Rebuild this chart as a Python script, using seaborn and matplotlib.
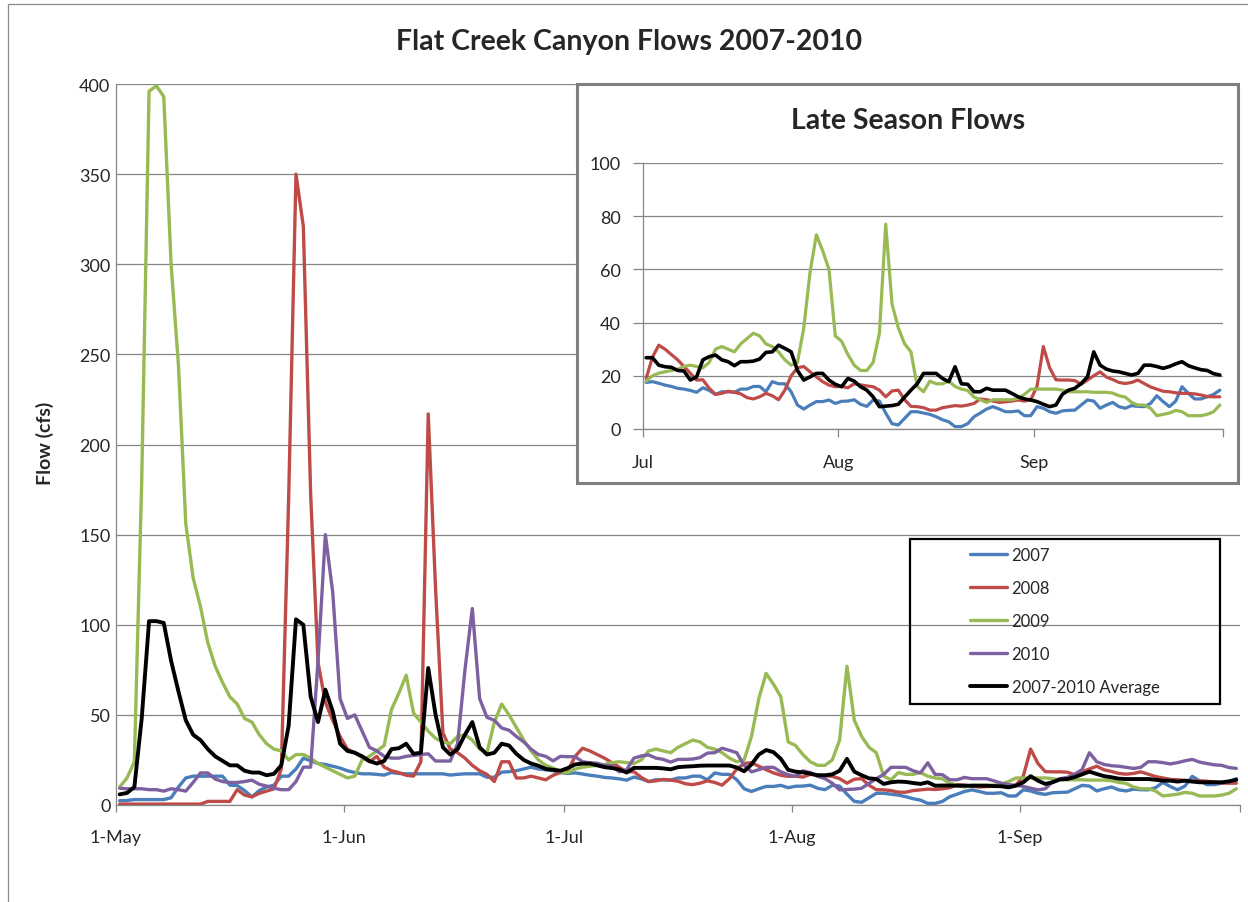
import numpy as np
import pandas as pd
import matplotlib
matplotlib.use("Agg")
import matplotlib.pyplot as plt
import seaborn as sns
from matplotlib.patches import Rectangle
from matplotlib.lines import Line2D

# ---------------- data (daily flow, cfs; 1 May - 30 Sep) ----------------
series_names = ["2007", "2008", "2009", "2010", "2007-2010 Average"]

flow_2007 = [
    2.4, 2.5, 3, 3, 3, 3, 3, 4, 10, 15,
    16, 16, 16, 16, 16, 11, 10.8, 8, 4.5, 8,
    10, 11, 16, 16, 20, 26, 24.5, 23, 22.5, 21.5,
    20.5, 19, 18, 17.3, 17.3, 17, 16.6, 18, 17.5, 17.3,
    17.3, 17.3, 17.3, 17.3, 17.3, 16.6, 17, 17.3, 17.3, 17.3,
    15.4, 15.4, 18.2, 18.5, 19, 20, 21, 20, 19.5, 19, 18,
    17.5, 17.8, 17.2, 16.5, 16, 15.3, 15, 14.5, 13.8, 15.5,
    14.5, 13, 14, 14, 13.8, 15, 15, 16, 16, 14,
    17.8, 17, 17, 14, 9, 7.5, 9, 10.3, 10.3, 10.9,
    9.6, 10.4, 10.5, 11, 9.3, 8.5, 10.9, 10.5, 6, 2,
    1.5, 4, 6.5, 6.5, 6, 5.5, 4.6, 3.5, 2.7, 0.9,
    0.9, 2, 4.6, 6, 7.5, 8.4, 7.5, 6.5, 6.5, 6.8,
    5, 5, 8.4, 7.8, 6.5, 5.9, 6.8, 7, 7.1, 9,
    10.9, 10.5, 7.8, 9, 10, 8.4, 7.8, 8.8, 8.5, 8.4,
    9.6, 12.5, 10.3, 8.4, 10.5, 15.9, 13.4, 11.3, 11.3, 12.1,
    13, 14.6,
]

flow_2008 = [
    0.5, 0.5, 0.5, 0.5, 0.5, 0.5, 0.5, 0.5, 0.5, 0.5,
    0.5, 0.5, 2, 2, 2, 2, 8.5, 5.5, 4.5, 6.5,
    7.7, 9, 20, 170, 350, 321, 172, 79, 57, 47,
    38, 31, 29, 26.5, 24, 27, 21, 19, 18, 16.5,
    16, 24, 217, 120, 40, 31, 29, 26, 22, 19,
    17, 13, 24, 24, 15, 15, 16, 15, 14, 16.5, 18,
    19, 27, 31.5, 30, 28, 26, 23.5, 21, 18.4, 18.5,
    15.3, 13, 13.4, 14.2, 13.8, 13.2, 11.8, 11.3, 12.1, 13.4,
    12.5, 11, 14.6, 20, 23, 23.5, 21.5, 19.6, 17.8, 16.5,
    15.9, 16, 15.5, 17, 16.6, 16.2, 15.9, 14.6, 12.1, 14.3,
    14.6, 11, 8.5, 8.4, 8, 7.1, 7.1, 8, 8.4, 8.8,
    8.6, 9, 9.6, 11.3, 11, 10.5, 10, 10.2, 10.5, 10.9,
    10.5, 11, 16, 31, 23, 18.5, 18.4, 18.4, 18.2, 16.8,
    18.4, 20, 21.5, 19.5, 18.6, 17.5, 17.1, 17.5, 18.4, 17.1,
    15.8, 15, 14.2, 14, 13.6, 13.4, 13.4, 13.2, 12.8, 12.2,
    12.1, 12.1,
]

flow_2009 = [
    10, 15, 24, 180, 396, 399, 393, 300, 244, 156,
    126, 110, 90, 77, 68, 60, 56, 48, 46, 39,
    34, 31, 30, 25, 28, 28, 26, 23, 21, 19,
    17, 15, 16, 25, 27, 30, 33, 53, 62, 72,
    51, 46, 41, 37, 35, 34, 38, 39, 36, 31,
    29, 46, 56, 50, 43, 36, 30, 25, 22, 20.5, 18.5,
    18, 20, 21, 21.5, 22, 22.5, 23.5, 24, 23.5, 23,
    25, 30, 31, 30, 29, 32, 34, 36, 35, 32,
    31, 29, 26, 24, 25, 38, 59, 73, 67, 60,
    35, 33, 28, 24, 22, 22, 25, 36, 77, 47,
    38, 32, 29, 16, 14, 18, 17, 17, 18, 16,
    15, 14.5, 12, 11, 10, 11, 11, 11, 11, 11.5,
    13, 15, 15, 15, 15, 15, 14.6, 14, 14, 14,
    14, 13.8, 13.8, 13.8, 13.5, 12.5, 12, 10, 9, 9,
    7.8, 5, 5.5, 6, 7, 6.5, 5, 5, 5, 5.5,
    6.5, 9,
]

flow_2010 = [
    9.3, 9, 9, 9, 8.5, 8.5, 7.7, 9, 8.5, 7.7,
    12.5, 17.8, 17.8, 14.4, 13, 12.5, 12.5, 13, 13.8, 11.5,
    10.5, 9.3, 8.5, 8.5, 13, 21, 21, 80, 150, 118,
    59, 48, 50, 41, 32, 30, 27, 26, 26, 27,
    27.5, 28, 28.4, 24.4, 24.4, 24.4, 34, 75, 109, 59,
    48.6, 47, 42.7, 41.5, 38, 35, 31, 28, 27, 24.5, 27,
    26.8, 26.8, 24, 23.4, 23.2, 22, 21.8, 18.4, 19.6, 26,
    27.2, 27.8, 26, 25.3, 23.8, 25.3, 25.3, 25.5, 26.3, 28.8,
    29, 31.5, 30.3, 29, 22, 18.4, 19.6, 20.9, 20.9, 18.4,
    16.8, 15.9, 19, 18, 15.9, 14.6, 12.1, 8.4, 8.6, 8.8,
    9.3, 12, 14.6, 17, 20.9, 20.9, 20.9, 19, 17.8, 23.4,
    17, 16.8, 14, 14, 15.3, 14.6, 14.6, 14.6, 13.4, 12.1,
    11.3, 10.9, 10.3, 9.3, 8.4, 9, 13, 14.6, 15.3, 17.1,
    19.6, 29, 24, 22.5, 21.8, 21.5, 20.9, 20.3, 20.9, 24,
    24, 23.5, 22.8, 23.5, 24.5, 25.3, 23.8, 23, 22.3, 22,
    20.8, 20.3,
]

flow_avg = [
    5.9, 6.7, 10, 48, 102, 102, 101, 80, 63, 47,
    39, 36, 31, 27, 24.5, 22, 22, 19, 18, 18,
    16.5, 17.3, 22, 44, 103, 100, 60, 46, 64, 52,
    34, 30, 29, 27, 24.4, 23, 24.4, 31, 31.5, 34,
    28.4, 29, 76, 50, 32, 28, 31, 39, 46, 32,
    28, 29, 34, 33, 28.4, 25, 23, 21.8, 20, 19.5,
    19, 20.5, 22.5, 23, 23, 22, 21, 20.5, 19.7, 18,
    20.6, 20.6, 20.6, 20.6, 20.3, 19.8, 21, 21.3, 21.5, 21.8,
    21.9, 21.9, 21.9, 21.9, 20.8, 18.7, 22.5, 28, 30.5, 29.3,
    25.6, 19.5, 18.5, 18.1, 17.4, 16.5, 16.5, 17, 19, 25.6,
    18.5, 16.5, 14.8, 14.4, 11.7, 12.6, 13, 12.8, 12.2, 11.7,
    12.6, 10.7, 10.8, 10.8, 10.7, 10.7, 10.7, 10.7, 10.7, 10.5,
    10.4, 9.8, 10.7, 12.6, 16, 13.5, 11.7, 12.6, 14.2, 14.4,
    15.5, 17, 18.5, 17.2, 16, 15.4, 14.6, 14.4, 14.4, 14.4,
    14.4, 14, 13.5, 13.5, 13, 13.5, 13, 12.6, 12.6, 12.6,
    12.6, 13.1, 14,
]

main_tick_labels = ["1-May", "1-Jun", "1-Jul", "1-Aug", "1-Sep", ""]
inset_tick_labels = ["Jul", "Aug", "Sep", ""]
main_yticks = [0, 50, 100, 150, 200, 250, 300, 350, 400]
inset_yticks = [0, 20, 40, 60, 80, 100]

main_title = "Flat Creek Canyon Flows 2007-2010"
inset_title = "Late Season Flows"
y_label = "Flow (cfs)"

# ---------------- build frame ----------------
dates = pd.date_range("2009-05-01", "2009-09-30", freq="D")
for arr in (flow_2007, flow_2008, flow_2009, flow_2010, flow_avg):
    assert len(arr) == len(dates), len(arr)

day = np.arange(len(dates)) + 0.5          # points drawn mid-day (Excel date axis)
df = pd.DataFrame({"day": day, "2007": flow_2007, "2008": flow_2008,
                   "2009": flow_2009, "2010": flow_2010,
                   "2007-2010 Average": flow_avg})
long = df.melt(id_vars="day", var_name="series", value_name="flow")

start = dates[0]
month_starts = [pd.Timestamp(f"2009-{m:02d}-01") for m in (5, 6, 7, 8, 9, 10)]
main_ticks = [(m - start).days for m in month_starts]
jul_off = (pd.Timestamp("2009-07-01") - start).days
inset_ticks = [t - jul_off for t in main_ticks[2:]]

main_colors = {"2007": "#4A7EBB", "2008": "#BE4B48", "2009": "#98B954",
               "2010": "#7D60A0", "2007-2010 Average": "#000000"}
inset_colors = {"2007": "#4A7EBB", "2008": "#BE4B48", "2009": "#98B954",
                "2010": "#000000"}
grid_c = "#868686"

# ---------------- figure ----------------
sns.set_theme(style="white")
plt.rcParams["font.family"] = ["Lato", "DejaVu Sans"]

W, H = 1248, 903
fig = plt.figure(figsize=(W / 100, H / 100), dpi=100)
fig.patch.set_facecolor("white")


def fx(px):
    return px / W


def fy(py):
    return 1 - py / H


# chart-area border
fig.patches.append(Rectangle((fx(8), fy(1000)), fx(1400) - fx(8), fy(5) - fy(1000),
                             transform=fig.transFigure, fill=False,
                             edgecolor="#8C8C8C", linewidth=0.9, zorder=0.5))

# ---------------- main axes ----------------
ax = fig.add_axes([fx(116), fy(806), fx(1240) - fx(116), fy(85) - fy(806)])
ax.set_zorder(1)
for name in series_names:
    sub = long[long["series"] == name]
    lw = 2.8 if name == "2007-2010 Average" else 2.4
    sns.lineplot(data=sub, x="day", y="flow", color=main_colors[name],
                 linewidth=lw, ax=ax, legend=False, sort=True)

ax.set_xlim(0, main_ticks[-1])
ax.set_ylim(0, 400)
ax.set_xticks(main_ticks)
ax.set_xticklabels(main_tick_labels)
ax.set_yticks(main_yticks)
ax.set_xlabel("")
ax.set_ylabel("")
ax.grid(axis="y", color=grid_c, linewidth=0.9)
ax.grid(axis="x", visible=False)
ax.set_axisbelow(True)
for s in ("top", "right"):
    ax.spines[s].set_visible(False)
for s in ("left", "bottom"):
    ax.spines[s].set_color(grid_c)
    ax.spines[s].set_linewidth(0.9)
ax.tick_params(axis="x", length=5, width=0.9, color=grid_c, pad=12,
               labelsize=13, direction="out", bottom=True)
ax.tick_params(axis="y", length=0, pad=4, labelsize=13)
ax.set_facecolor("white")

# ---------------- inset box ----------------
fig.patches.append(Rectangle((fx(577), fy(484)), fx(1238) - fx(577), fy(85) - fy(484),
                             transform=fig.transFigure, facecolor="white",
                             edgecolor="#7F7F7F", linewidth=2.2, zorder=2))

ins = fig.add_axes([fx(643), fy(430), fx(1223) - fx(643), fy(164) - fy(430)])
ins.set_zorder(3)
ins.patch.set_alpha(0)
late = long[(long["day"] >= jul_off) & (long["series"] != "2007-2010 Average")].copy()
late["day"] = late["day"] - jul_off
for name in ["2007", "2008", "2009", "2010"]:
    sub = late[late["series"] == name]
    lw = 2.6 if name == "2010" else 2.3
    sns.lineplot(data=sub, x="day", y="flow", color=inset_colors[name],
                 linewidth=lw, ax=ins, legend=False, sort=True)
ins.set_xlim(0, inset_ticks[-1])
ins.set_ylim(0, 100)
ins.set_xticks(inset_ticks)
ins.set_xticklabels(inset_tick_labels)
ins.set_yticks(inset_yticks)
ins.set_xlabel("")
ins.set_ylabel("")
ins.grid(axis="y", color=grid_c, linewidth=0.9)
ins.grid(axis="x", visible=False)
ins.set_axisbelow(True)
for s in ("top", "right"):
    ins.spines[s].set_visible(False)
for s in ("left", "bottom"):
    ins.spines[s].set_color(grid_c)
    ins.spines[s].set_linewidth(0.9)
ins.tick_params(axis="x", length=6, width=0.9, color=grid_c, pad=12,
                labelsize=13, direction="out", bottom=True)
ins.tick_params(axis="y", length=7, width=0.9, color=grid_c, pad=9,
                labelsize=13, direction="out", left=True)

# ---------------- legend ----------------
fig.patches.append(Rectangle((fx(910), fy(705)), fx(1220) - fx(910), fy(540) - fy(705),
                             transform=fig.transFigure, fill=False,
                             edgecolor="black", linewidth=1.6, zorder=2))
handles = [Line2D([0], [0], color=main_colors[n],
                  linewidth=2.8 if n == "2007-2010 Average" else 2.4)
           for n in series_names]
leg = fig.legend(handles, series_names, loc="upper left",
                 bbox_to_anchor=(fx(970), fy(548)), frameon=False, fontsize=12,
                 handlelength=2.2, handletextpad=0.3, labelspacing=1.02,
                 borderpad=0, borderaxespad=0)
leg.set_zorder(4)

# ---------------- texts ----------------
fig.text(fx(629), fy(42), main_title, ha="center", va="center",
         fontsize=20.5, fontweight="bold")
fig.text(fx(908), fy(121), inset_title, ha="center", va="center",
         fontsize=20.5, fontweight="bold", zorder=5)
fig.text(fx(45), fy(443), y_label, ha="center", va="center", rotation=90,
         fontsize=14, fontweight="bold")

fig.savefig("out.png", dpi=100)
